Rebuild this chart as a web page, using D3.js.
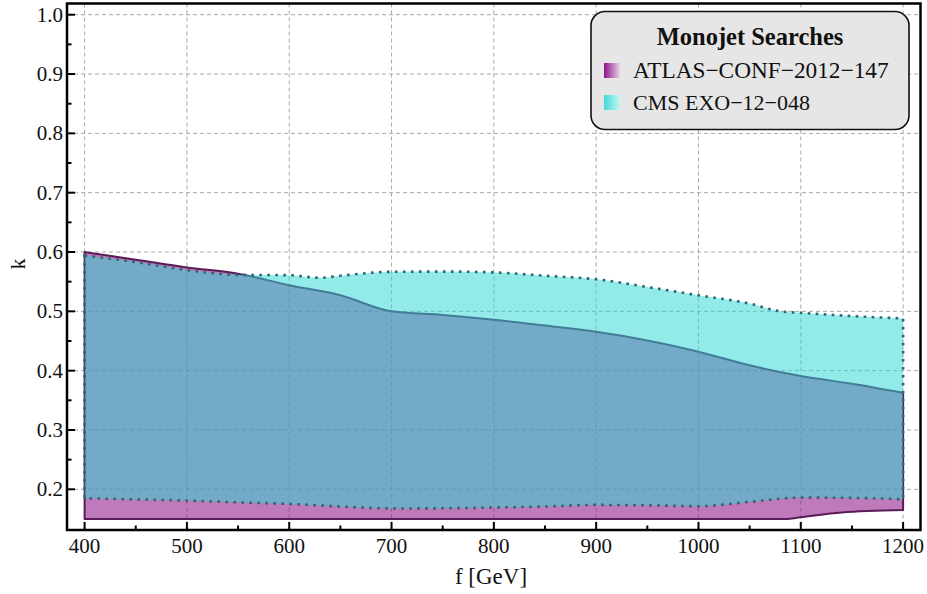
<!DOCTYPE html>
<html>
<head>
<meta charset="utf-8">
<script src="https://cdn.jsdelivr.net/npm/d3@7"></script>
<style>
  html, body { margin: 0; padding: 0; background: #fff; }
  svg { display: block; }
  text { font-family: "Liberation Serif", "DejaVu Serif", serif; fill: #111; }
</style>
</head>
<body>
<svg id="chart" width="927" height="594"></svg>
<script>
// ---- data ----
const atlasUpperF = [400, 450, 500, 550, 600, 650, 700, 750, 800, 850, 900, 950, 1000, 1050, 1100, 1150, 1200];
const atlasUpperK = [0.600, 0.587, 0.574, 0.5635, 0.544, 0.527, 0.500, 0.494, 0.486, 0.476, 0.4655, 0.451, 0.432, 0.409, 0.391, 0.378, 0.3626];
const atlasLowerF = [400, 1085, 1100, 1140, 1200];
const atlasLowerK = [0.150, 0.150, 0.153, 0.161, 0.165];

const cmsUpperF = [400, 450, 500, 550, 600, 630, 650, 700, 750, 800, 850, 900, 950, 1000, 1050, 1080, 1100, 1150, 1200];
const cmsUpperK = [0.594, 0.583, 0.5695, 0.5615, 0.561, 0.5565, 0.560, 0.5666, 0.567, 0.5656, 0.560, 0.554, 0.541, 0.527, 0.513, 0.500, 0.4975, 0.492, 0.488];
const cmsLowerF = [400, 450, 500, 550, 600, 650, 700, 750, 800, 850, 900, 950, 1000, 1050, 1100, 1150, 1200];
const cmsLowerK = [0.185, 0.183, 0.181, 0.178, 0.1754, 0.171, 0.1677, 0.168, 0.1693, 0.171, 0.1737, 0.173, 0.1715, 0.1788, 0.186, 0.1855, 0.1833];

const xTicks = [400, 500, 600, 700, 800, 900, 1000, 1100, 1200];
const xMinorTicks = [450, 550, 650, 750, 850, 950, 1050, 1150];
const yTicks = [0.2, 0.3, 0.4, 0.5, 0.6, 0.7, 0.8, 0.9, 1.0];
const yMinorTicks = [0.25, 0.35, 0.45, 0.55, 0.65, 0.75, 0.85, 0.95];

const legendTitle = "Monojet Searches";
const seriesNames = ["ATLAS\u2212CONF\u22122012\u2212147", "CMS EXO\u221212\u2212048"];
const xTitle = "f [GeV]";
const yTitle = "k";

// ---- layout ----
const L = 67, R = 920.5, T = 3.5, B = 530;
const x = d3.scaleLinear().domain([382.8, 1217]).range([L, R]);
const y = d3.scaleLinear().domain([0.1314, 1.0189]).range([B, T]);

const svg = d3.select("#chart");
const defs = svg.append("defs");

// gradients for legend swatches
const g1 = defs.append("linearGradient").attr("id", "gAtlas");
g1.append("stop").attr("offset", "0%").attr("stop-color", "#8a1488");
g1.append("stop").attr("offset", "100%").attr("stop-color", "#ead2e8");
const g2 = defs.append("linearGradient").attr("id", "gCms");
g2.append("stop").attr("offset", "0%").attr("stop-color", "#3fd8d6");
g2.append("stop").attr("offset", "100%").attr("stop-color", "#c8f6f5");

// grid
const grid = svg.append("g").attr("stroke", "#a8a8a8").attr("stroke-width", 1)
  .attr("stroke-dasharray", "4,3").attr("fill", "none");
grid.selectAll("line.v").data(xTicks).join("line").attr("class", "v")
  .attr("x1", d => x(d)).attr("x2", d => x(d)).attr("y1", T).attr("y2", B);
grid.selectAll("line.h").data(yTicks).join("line").attr("class", "h")
  .attr("y1", d => y(d)).attr("y2", d => y(d)).attr("x1", L).attr("x2", R);

// region builder: upper forward, lower backward, closed
function regionPath(uf, uk, lf, lk) {
  const line = d3.line().x(d => x(d[0])).y(d => y(d[1])).curve(d3.curveMonotoneX);
  const up = d3.zip(uf, uk);
  const lo = d3.zip(lf, lk).reverse();
  const p1 = line(up);
  const p2 = line(lo);
  return p1 + "L" + p2.slice(1) + "Z";
}

const atlasPath = regionPath(atlasUpperF, atlasUpperK, atlasLowerF, atlasLowerK);
const cmsPath = regionPath(cmsUpperF, cmsUpperK, cmsLowerF, cmsLowerK);

// ATLAS region
svg.append("path").attr("d", atlasPath)
  .attr("fill", "rgb(137,13,130)").attr("fill-opacity", 0.55)
  .attr("stroke", "rgb(88,28,86)").attr("stroke-width", 2).attr("stroke-linejoin", "round");

// CMS region
svg.append("path").attr("d", cmsPath)
  .attr("fill", "rgb(46,215,212)").attr("fill-opacity", 0.52)
  .attr("stroke", "none");
svg.append("path").attr("d", cmsPath)
  .attr("fill", "none")
  .attr("stroke", "rgb(42,104,112)").attr("stroke-width", 2.6)
  .attr("stroke-dasharray", "2.6,5.4");

// frame
svg.append("rect").attr("x", L).attr("y", T).attr("width", R - L).attr("height", B - T)
  .attr("fill", "none").attr("stroke", "#000").attr("stroke-width", 2.5);

// ticks
const tk = svg.append("g").attr("stroke", "#000").attr("stroke-width", 2);
tk.selectAll("line.xt").data(xTicks).join("line").attr("class", "xt")
  .attr("x1", d => x(d)).attr("x2", d => x(d)).attr("y1", B).attr("y2", B - 8);
tk.selectAll("line.xm").data(xMinorTicks).join("line").attr("class", "xm")
  .attr("x1", d => x(d)).attr("x2", d => x(d)).attr("y1", B).attr("y2", B - 4.5);
tk.selectAll("line.yt").data(yTicks).join("line").attr("class", "yt")
  .attr("y1", d => y(d)).attr("y2", d => y(d)).attr("x1", L).attr("x2", L + 8);
tk.selectAll("line.ym").data(yMinorTicks).join("line").attr("class", "ym")
  .attr("y1", d => y(d)).attr("y2", d => y(d)).attr("x1", L).attr("x2", L + 4.5);

// tick labels
svg.append("g").selectAll("text").data(xTicks).join("text")
  .attr("x", d => x(d)).attr("y", 553).attr("text-anchor", "middle")
  .attr("font-size", 21).text(d => d);
svg.append("g").selectAll("text").data(yTicks).join("text")
  .attr("x", 63).attr("y", d => y(d) + 7).attr("text-anchor", "end")
  .attr("font-size", 21).text(d => d.toFixed(1));

// axis titles
svg.append("text").attr("x", 491).attr("y", 584).attr("text-anchor", "middle")
  .attr("font-size", 23).text(xTitle);
svg.append("text").attr("transform", "translate(25,264) rotate(-90)")
  .attr("text-anchor", "middle").attr("font-size", 22).text(yTitle);

// legend
const lg = svg.append("g");
lg.append("rect").attr("x", 591).attr("y", 11.5).attr("width", 318).attr("height", 118)
  .attr("rx", 14).attr("ry", 14).attr("fill", "#e6e6e6").attr("stroke", "#111").attr("stroke-width", 1.6);
lg.append("text").attr("x", 750).attr("y", 45).attr("text-anchor", "middle")
  .attr("font-size", 24.5).attr("font-weight", "bold").text(legendTitle);
const swatches = ["url(#gAtlas)", "url(#gCms)"];
const rowY = [78, 110];
const rowSize = [23.3, 22];
seriesNames.forEach((name, i) => {
  lg.append("rect").attr("x", 604).attr("y", rowY[i] - 15).attr("width", 16).attr("height", 15)
    .attr("fill", swatches[i]);
  lg.append("text").attr("x", 633).attr("y", rowY[i]).attr("font-size", rowSize[i]).text(name);
});
</script>
</body>
</html>
